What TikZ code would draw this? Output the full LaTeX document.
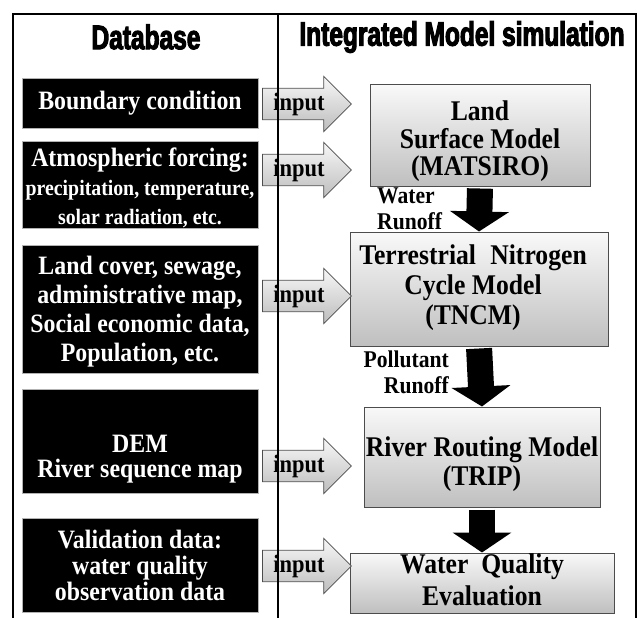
\documentclass[tikz,border=0pt]{standalone}
\usepackage{fontspec}
\setmainfont{Liberation Serif}[FakeStretch=0.9]
\newfontfamily\headfont{Liberation Sans}[FakeStretch=0.72,FakeBold=3]
\usetikzlibrary{shapes.arrows,arrows.meta}

\tikzset{
  dbbox/.style={fill=black, draw=gray!60, line width=0.8pt,
    inner sep=0pt, minimum width=236pt},
  dbtext/.style={text=white, font=\bfseries\fontsize{26.5}{29}\selectfont,
    align=center, inner sep=0pt},
  modelbox/.style={draw=black!70, line width=1pt, top color=gray!5,
    bottom color=gray!50, inner sep=0pt},
  modeltext/.style={font=\bfseries\fontsize{28.5}{29}\selectfont,
    align=center, inner sep=0pt},
  inarrow/.style={single arrow, draw=black!70, line width=0.8pt,
    top color=gray!6, bottom color=gray!52,
    font=\bfseries\fontsize{25}{25}\selectfont,
    single arrow head extend=12pt, minimum height=89pt,
    inner xsep=5pt, inner ysep=4pt, anchor=tail},
  flow/.style={line width=26pt, -{Triangle[width=58pt,length=20pt]},
    shorten <=2pt},
  flowlabel/.style={font=\bfseries\fontsize{24}{26}\selectfont, inner sep=0pt},
  header/.style={font=\headfont\bfseries\fontsize{34}{34}\selectfont,
    inner sep=0pt}
}

\begin{document}
\begin{tikzpicture}[x=1pt,y=-1pt]
\useasboundingbox (0,0) rectangle (638,618);

% column headers
\node[header] (hdb) at (146,37) {Database};
\node[header] (hsim) at (462,37) {Integrated Model simulation};

% database boxes (left column)
\node[dbbox, minimum height=50pt] (b1) at (140,103) {};
\node[dbbox, minimum height=87pt] (b2) at (140,184.5) {};
\node[dbbox, minimum height=128pt] (b3) at (140,309) {};
\node[dbbox, minimum height=104pt] (b4) at (140,441) {};
\node[dbbox, minimum height=94pt] (b5) at (140,565) {};

\node[dbtext] (b1t) at (b1.center) {Boundary condition};
\node[dbtext] (b2t) at ([yshift=-3pt]b2.center)
  {Atmospheric forcing:\\ \fontsize{22}{24}\selectfont precipitation, temperature,\\
   \fontsize{22}{24}\selectfont solar radiation, etc.};
\node[dbtext] (b3t) at ([yshift=-3pt]b3.center)
  {Land cover, sewage,\\ administrative map,\\ Social economic data,\\ Population, etc.};
\node[dbtext, font=\bfseries\fontsize{26.5}{25}\selectfont] (b4t) at ([yshift=-18pt]b4.center)
  {DEM\\ River sequence map};
\node[dbtext, font=\bfseries\fontsize{26.5}{26}\selectfont] (b5t) at (b5.center)
  {Validation data:\\ water quality\\ observation data};

% model boxes (right column)
\node[modelbox, minimum width=220pt, minimum height=101pt] (lsm) at (480,135.5) {};
\node[modelbox, minimum width=258pt, minimum height=114pt] (tncm) at (479,289) {};
\node[modelbox, minimum width=236pt, minimum height=100pt] (trip) at (482,457) {};
\node[modelbox, minimum width=264pt, minimum height=60pt] (wqe) at (482,583) {};

\node[modeltext, font=\bfseries\fontsize{28.5}{27.5}\selectfont] (lsmt)
  at ([yshift=-6pt]lsm.center) {Land\\ Surface Model\\ (MATSIRO)};
\node[modeltext, font=\bfseries\fontsize{28.5}{30}\selectfont] (tncmt)
  at ([xshift=-6pt,yshift=1pt]tncm.center) {Terrestrial\hspace{0.5em}Nitrogen\\ Cycle Model\\ (TNCM)};
\node[modeltext] (tript) at ([yshift=-7pt]trip.center) {River Routing Model\\ (TRIP)};
\node[modeltext, font=\bfseries\fontsize{28.5}{32}\selectfont] (wqet)
  at ([yshift=3pt]wqe.center) {Water\ \ Quality\\ Evaluation};

% input arrows
\node[inarrow] (in1) at (262,104) {input};
\node[inarrow] (in2) at (262,170) {input};
\node[inarrow] (in3) at (262,296) {input};
\node[inarrow] (in4) at (262,466) {input};
\node[inarrow] (in5) at (262,566) {input};

% frame and column divider
\draw[line width=1.8pt] (13,620) |- (636,14) -- (636,620);
\draw[line width=1.5pt] (278,14) -- (278,620);

% model chain
\draw[flow] (lsm.south) -- (tncm.north);
\draw[flow] (tncm.south) -- (trip.north);
\draw[flow] (trip.south) -- (wqe.north);

\node[flowlabel, align=left, anchor=south west] (lw) at (377,230) {Water\\ Runoff};
\node[flowlabel, align=right, anchor=south east] (lp) at (449,394) {Pollutant\\ Runoff};
\end{tikzpicture}
\end{document}
